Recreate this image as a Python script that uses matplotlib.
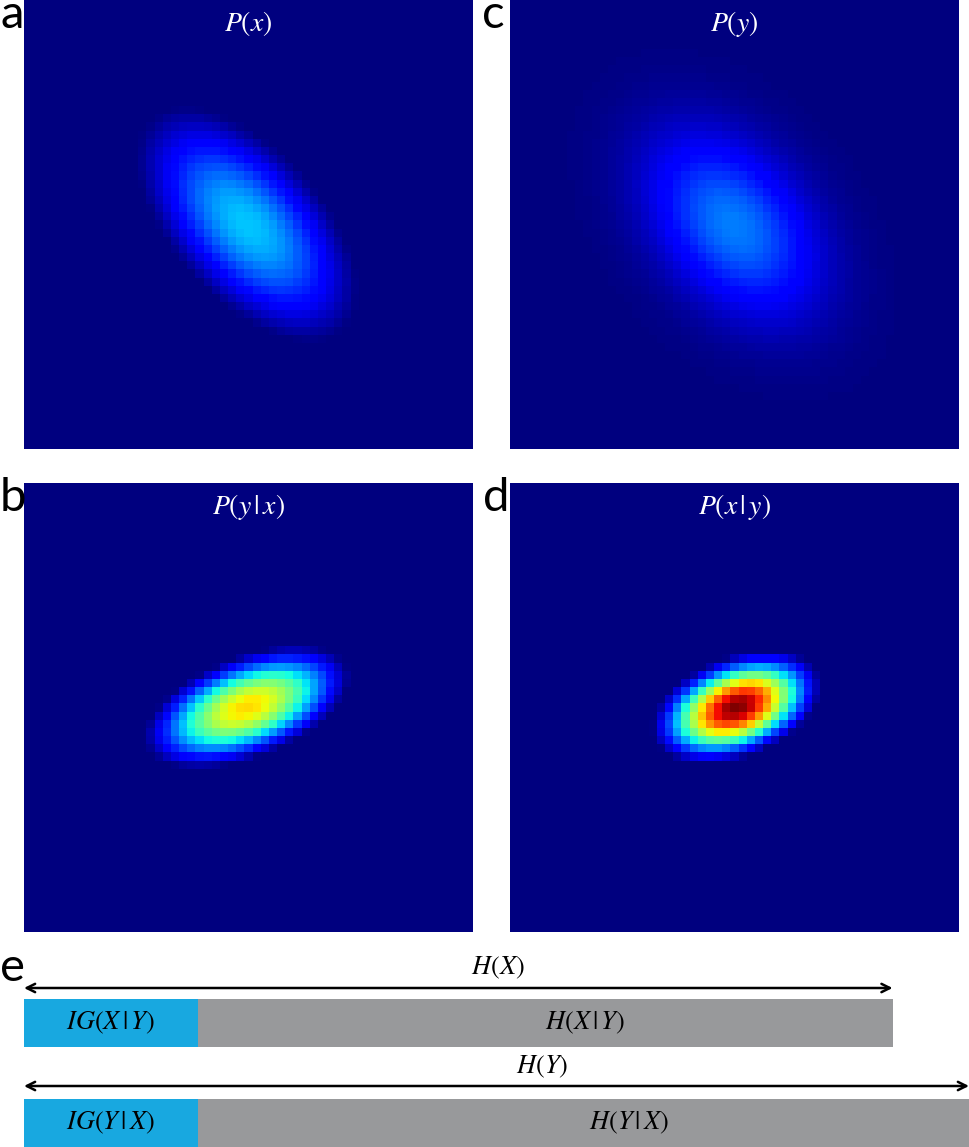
import numpy as np
import matplotlib
matplotlib.use("Agg")
import matplotlib.pyplot as plt

plt.rcParams["mathtext.fontset"] = "stix"

# Panel titles / letters
panel_letters = ["a", "b", "c", "d"]
panel_titles = ["$P(x)$", r"$P(y\,|\,x)$", "$P(y)$", r"$P(x\,|\,y)$"]

# Gaussian blob (panel fraction units, y downwards)
blob_cx = [0.497, 0.497, 0.497, 0.505]
blob_cy = [0.500, 0.499, 0.501, 0.499]
blob_sig_major = [0.205, 0.155, 0.155, 0.110]
blob_sig_minor = [0.107, 0.072, 0.102, 0.062]
blob_angle = [48, -21, 50, -21]
blob_peak = [0.32, 0.68, 0.25, 1.00]
blob_floor = [0.30, 0.30, 0.00, 0.20]   # level below which the map reads as background
N_CELLS = 55

# Entropy bars (panel e)
bar_labels_ig = [r"$IG(X\,|\,Y)$", r"$IG(Y\,|\,X)$"]
bar_labels_h = [r"$H(X\,|\,Y)$", r"$H(Y\,|\,X)$"]
arrow_labels = ["$H(X)$", "$H(Y)$"]
info_gain = [0.50, 0.50]
entropy_total = [2.50, 2.72]

W, H = 969, 1147
fig = plt.figure(figsize=(W / 100, H / 100), dpi=100)


def px_axes(left, top, width, height):
    return fig.add_axes([left / W, 1 - (top + height) / H, width / W, height / H])


def blob(i):
    c = (np.arange(N_CELLS) + 0.5) / N_CELLS
    xx, yy = np.meshgrid(c, c)
    dx, dy = xx - blob_cx[i], yy - blob_cy[i]
    t = np.deg2rad(blob_angle[i])
    u = dx * np.cos(t) + dy * np.sin(t)
    v = -dx * np.sin(t) + dy * np.cos(t)
    g = np.exp(-0.5 * ((u / blob_sig_major[i]) ** 2 + (v / blob_sig_minor[i]) ** 2))
    f = blob_floor[i]
    return blob_peak[i] * np.clip((g - f) / (1 - f), 0, None)


vmax = max(blob_peak)
# a, b left column; c, d right column
positions = [(24, 0), (24, 483), (510, 0), (510, 483)]
letter_pos = [(0, 28), (0, 511), (482, 28), (483, 511)]
for i in range(4):
    ax = px_axes(positions[i][0], positions[i][1], 449, 449)
    ax.imshow(blob(i), cmap="jet", vmin=0, vmax=vmax, interpolation="nearest",
              extent=[0, 1, 1, 0], aspect="auto")
    ax.set_xlim(0, 1)
    ax.set_ylim(1, 0)
    ax.axis("off")
    ax.text(0.5, 1 - 24 / 449, panel_titles[i], color="white", fontsize=20,
            ha="center", va="center", transform=ax.transAxes)
    fig.text(letter_pos[i][0] / W, 1 - letter_pos[i][1] / H, panel_letters[i],
             fontsize=34, family="Lato", ha="left", va="baseline")

fig.text(0 / W, 1 - 981 / H, "e", fontsize=34, family="Lato", ha="left", va="baseline")

# panel e: x in entropy units, y in pixel rows
axe = px_axes(24, 940, 945, 207)
axe.set_xlim(0, max(entropy_total))
axe.set_ylim(207, 0)
axe.axis("off")

bar_top = [59, 159]
arrow_y = [48, 146]
label_y = [28, 127]
text_shift = [0.115, 0.13]
for k in range(2):
    yc = bar_top[k] + 24
    axe.barh(yc, info_gain[k], height=48, left=0, color="#18a8e0")
    axe.barh(yc, entropy_total[k] - info_gain[k], height=48, left=info_gain[k],
             color="#98999b")
    axe.text(info_gain[k] / 2, yc, bar_labels_ig[k], fontsize=19, ha="center", va="center")
    axe.text((info_gain[k] + entropy_total[k]) / 2 + text_shift[k], yc, bar_labels_h[k],
             fontsize=19, ha="center", va="center")
    axe.annotate("", xy=(entropy_total[k], arrow_y[k]), xytext=(0, arrow_y[k]),
                 arrowprops=dict(arrowstyle="<->", lw=1.8, color="black",
                                 shrinkA=0, shrinkB=0, mutation_scale=15),
                 annotation_clip=False)
    axe.text(entropy_total[k] / 2 + text_shift[k], label_y[k], arrow_labels[k],
             fontsize=19, ha="center", va="center")

fig.savefig("out.png", dpi=100)
